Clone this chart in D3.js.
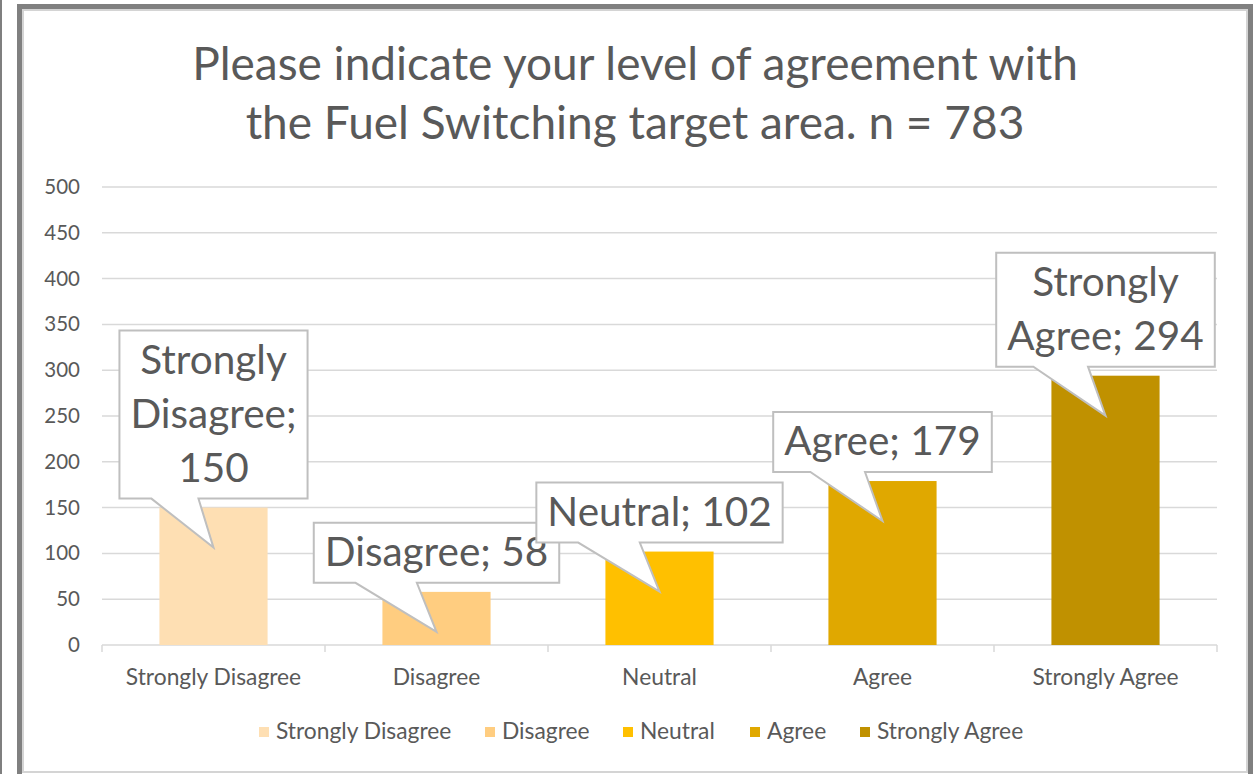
<!DOCTYPE html>
<html>
<head>
<meta charset="utf-8">
<script src="https://cdn.jsdelivr.net/npm/d3@7"></script>
<style>
  html, body { margin: 0; padding: 0; background: #fff; }
  text { font-family: Lato, "Open Sans", sans-serif; fill: #595959; }
</style>
</head>
<body>
<div id="chart"></div>
<script>
// Chart data
let categories = ['Strongly Disagree', 'Disagree', 'Neutral', 'Agree', 'Strongly Agree'];
let values = [150, 58, 102, 179, 294];
let barColors = ['#fedfb3', '#ffcd80', '#ffc000', '#e0a800', '#c09100'];
let yTicks = [0, 50, 100, 150, 200, 250, 300, 350, 400, 450, 500];
let titleLines = ['Please indicate your level of agreement with', 'the Fuel Switching target area. n = 783'];
// word indices after which a data label wraps
let labelBreaks = [[0, 1], [], [], [], [0]];

// SVG setup
let svgWidth = 1253;
let svgHeight = 774;

let margin = { top: 187, right: 36, bottom: 129, left: 102 };
let width = svgWidth - margin.left - margin.right;
let height = svgHeight - margin.top - margin.bottom;

let svg = d3.select('#chart')
  .append('svg')
  .attr('width', svgWidth)
  .attr('height', svgHeight);

// Frame
svg.append('rect')
  .attr('x', 0).attr('y', 0)
  .attr('width', 2).attr('height', svgHeight)
  .attr('fill', '#7f7f7f');
svg.append('rect')
  .attr('x', 19.5).attr('y', 6.5)
  .attr('width', 1231).attr('height', 780)
  .attr('fill', 'none')
  .attr('stroke', '#808080')
  .attr('stroke-width', 5);
svg.append('rect')
  .attr('x', 23).attr('y', 10)
  .attr('width', 1224).attr('height', 762)
  .attr('fill', 'none')
  .attr('stroke', '#d4d4d4')
  .attr('stroke-width', 2);

// Title
svg.append('g')
  .selectAll('text')
  .data(titleLines)
  .enter()
  .append('text')
  .attr('x', 635)
  .attr('y', (d, i) => 80 + i * 59)
  .attr('text-anchor', 'middle')
  .attr('font-size', '46px')
  .text(d => d);

let chartGroup = svg.append('g')
  .attr('transform', `translate(${margin.left}, ${margin.top})`);

// Scales
let xScale = d3.scaleBand()
  .domain(categories)
  .range([0, width])
  .paddingInner(0.515)
  .paddingOuter(0.2575);

let yScale = d3.scaleLinear()
  .domain([0, 500])
  .range([height, 0]);

// Gridlines
chartGroup.append('g')
  .selectAll('line')
  .data(yTicks)
  .enter()
  .append('line')
  .attr('x1', 0)
  .attr('x2', width)
  .attr('y1', d => yScale(d))
  .attr('y2', d => yScale(d))
  .attr('stroke', '#d9d9d9')
  .attr('stroke-width', 1.5);

// Y axis labels
let leftAxis = d3.axisLeft(yScale).tickValues(yTicks).tickSize(0).tickPadding(22);
let yAxis = chartGroup.append('g').call(leftAxis);
yAxis.select('.domain').remove();
yAxis.selectAll('text')
  .attr('font-size', '20.5px')
  .attr('font-family', 'Lato, sans-serif')
  .attr('fill', '#595959');

// Category boundary ticks
let step = width / categories.length;
chartGroup.append('g')
  .selectAll('line')
  .data(d3.range(categories.length + 1))
  .enter()
  .append('line')
  .attr('x1', d => d * step)
  .attr('x2', d => d * step)
  .attr('y1', height)
  .attr('y2', height + 7)
  .attr('stroke', '#d9d9d9')
  .attr('stroke-width', 1.5);

// Category labels
chartGroup.append('g')
  .selectAll('text')
  .data(categories)
  .enter()
  .append('text')
  .attr('x', d => xScale(d) + xScale.bandwidth() / 2)
  .attr('y', height + 40)
  .attr('text-anchor', 'middle')
  .attr('font-size', '22.8px')
  .text(d => d);

// Bars
chartGroup.append('g')
  .selectAll('rect')
  .data(values)
  .enter()
  .append('rect')
  .attr('x', (d, i) => xScale(categories[i]))
  .attr('y', d => yScale(d))
  .attr('width', xScale.bandwidth())
  .attr('height', d => height - yScale(d))
  .attr('fill', (d, i) => barColors[i]);

// Data label callouts
let labelSize = 40.5;
let lineH = 54;
let padX = 11;

values.forEach(function(v, i) {
  let words = `${categories[i]}; ${v}`.split(' ');
  let lines = [];
  let cur = [];
  words.forEach(function(w, wi) {
    cur.push(w);
    if (labelBreaks[i].includes(wi) || wi === words.length - 1) {
      lines.push(cur.join(' '));
      cur = [];
    }
  });

  let g = chartGroup.append('g');
  let cx = xScale(categories[i]) + xScale.bandwidth() / 2;
  let barTop = yScale(v);

  let path = g.append('path');
  let texts = g.selectAll('text')
    .data(lines)
    .enter()
    .append('text')
    .attr('x', cx)
    .attr('text-anchor', 'middle')
    .attr('font-size', labelSize + 'px')
    .text(d => d);

  let maxW = d3.max(texts.nodes(), n => n.getComputedTextLength());
  let boxW = maxW + padX * 2;
  let boxH = lines.length * lineH + 6;
  let bottom = barTop - 9;
  let top = bottom - boxH;
  let left = cx - boxW / 2;
  let right = cx + boxW / 2;
  let tipY = barTop + 40;

  texts.attr('y', (d, j) => top + 3 + lineH * j + lineH * 0.74);

  path.attr('d', `M${left},${top} H${right} V${bottom} H${cx - 0.08 * boxW} L${cx},${tipY} L${cx - 0.33 * boxW},${bottom} H${left} Z`)
    .attr('fill', '#fff')
    .attr('stroke', '#bfbfbf')
    .attr('stroke-width', 2);
});

// Legend
let legend = svg.append('g');
let legendX = [259, 485, 623, 750, 860];
categories.forEach(function(c, i) {
  legend.append('rect')
    .attr('x', legendX[i])
    .attr('y', 727)
    .attr('width', 10)
    .attr('height', 10)
    .attr('fill', barColors[i]);
  legend.append('text')
    .attr('x', legendX[i] + 17)
    .attr('y', 739)
    .attr('font-size', '22.8px')
    .text(c);
});
</script>
</body>
</html>
